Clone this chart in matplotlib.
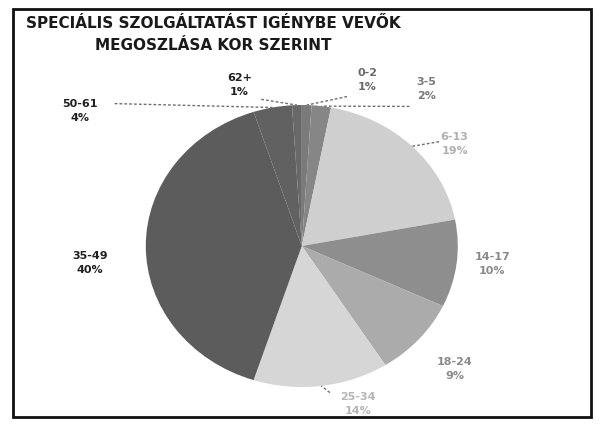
import numpy as np
import matplotlib
matplotlib.use('Agg')
import matplotlib.pyplot as plt
from matplotlib.patches import Rectangle

# age groups and share of users (%)
groups = ['0-2', '3-5', '6-13', '14-17', '18-24', '25-34', '35-49', '50-61', '62+']
shares = [1, 2, 19, 10, 9, 14, 40, 4, 1]
title = 'SPECIÁLIS SZOLGÁLTATÁST IGÉNYBE VEVŐK\nMEGOSZLÁSA KOR SZERINT'

colors = ['#7a7a7a', '#868686', '#cfcfcf', '#8e8e8e', '#ababab',
          '#d6d6d6', '#5c5c5c', '#616161', '#686868']
label_colors = ['#6a6a6a', '#7a7a7a', '#b0b0b0', '#8a8a8a', '#8a8a8a',
                '#b5b5b5', '#202020', '#202020', '#202020']
# label centres in pie units (x, y)
label_pos = [(0.42, 1.18), (0.80, 1.11), (0.98, 0.72), (1.22, -0.13),
             (0.98, -0.87), (0.36, -1.12), (-1.36, -0.12), (-1.42, 0.96),
             (-0.40, 1.14)]
# where the leader line leaves the label (None = no leader)
leader_from = [(0.29, 1.06), (0.69, 0.99), (0.88, 0.74), None, None,
               (0.18, -1.04), None, (-1.20, 1.01), (-0.26, 1.04)]

fig = plt.figure(figsize=(6, 4.26), dpi=100)
fig.patches.append(Rectangle((0.022, 0.022), 0.963, 0.958, transform=fig.transFigure,
                             fill=False, edgecolor='#111111', linewidth=2))

fig.text(0.355, 0.962, title, ha='center', va='top', fontsize=11,
         fontweight='bold', color='#1a1a1a', linespacing=1.6)

ax = fig.add_axes([0.243, 0.0915, 0.52, 0.662])
wedges, _ = ax.pie(shares, colors=colors, startangle=90, counterclock=False,
                   wedgeprops=dict(linewidth=0))
ax.set_aspect('auto')
ax.set_xlim(-1, 1)
ax.set_ylim(-1, 1)
ax.axis('off')

for i, w in enumerate(wedges):
    lx, ly = label_pos[i]
    ax.text(lx, ly, '%s\n%d%%' % (groups[i], shares[i]), ha='center', va='center',
            fontsize=8, fontweight='bold', color=label_colors[i],
            linespacing=1.5, clip_on=False)
    if leader_from[i] is not None:
        mid = np.deg2rad((w.theta1 + w.theta2) / 2)
        sx, sy = leader_from[i]
        ax.plot([sx, np.cos(mid)], [sy, np.sin(mid)], linestyle=(0, (2, 1.5)),
                color='#6f6f6f', linewidth=1.0, clip_on=False)

fig.savefig('out.png', dpi=100)
